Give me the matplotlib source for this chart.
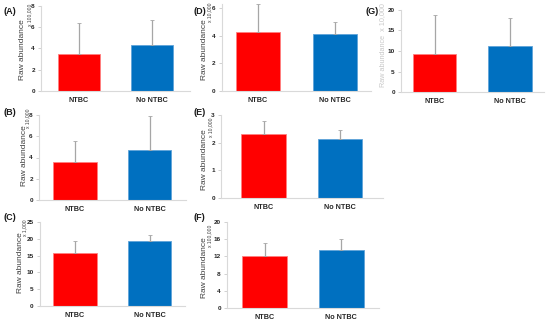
import matplotlib.pyplot as plt

plt.rcParams['font.family'] = ['Liberation Sans', 'DejaVu Sans']

groups = ['NTBC', 'No NTBC']
colors = ['#FF0000', '#0070C0']

# panel data: mean and upper error
a_vals = [3.5, 4.35]
a_err = [2.9, 2.3]
b_vals = [3.55, 4.7]
b_err = [2.0, 3.25]
c_vals = [15.8, 19.3]
c_err = [3.5, 1.8]
d_vals = [4.3, 4.15]
d_err = [2.0, 0.85]
e_vals = [2.33, 2.12]
e_err = [0.47, 0.33]
f_vals = [12.2, 13.6]
f_err = [2.9, 2.4]
g_vals = [9.3, 11.3]
g_err = [9.6, 6.8]

W, H = 550, 321
fig = plt.figure(figsize=(W / 100, H / 100), dpi=100)

# layout in pixels: label, axis-left x, bar centres, bar width, y top, y zero,
# ymax, ticks, multiplier, label pos, ylabel pos, multiplier pos, faded
panels = [
    ('(A)', 41, 79, 151.5, 42, 6, 91, 8, [0, 2, 4, 6, 8], 'x 100,000', (4, 12), (23, 50), (30, 15), a_vals, a_err, False),
    ('(B)', 39, 75, 149.5, 43.5, 115, 200, 8, [0, 2, 4, 6, 8], 'x 10,000', (4, 113), (24, 156), (28, 118), b_vals, b_err, False),
    ('(C)', 40, 75, 149.5, 43.5, 222, 306, 25, [0, 5, 10, 15, 20, 25], 'x 1,000', (4, 218), (21, 263), (25, 228), c_vals, c_err, False),
    ('(D)', 222, 258, 335, 44, 4, 91, 6.3, [0, 2, 4, 6], 'x 10,000', (193, 12), (205, 50), (210, 12), d_vals, d_err, False),
    ('(E)', 221, 263.5, 340, 44.5, 115, 198, 3, [0, 1, 2, 3], 'x 10,000', (193, 113), (205, 160), (211, 127), e_vals, e_err, False),
    ('(F)', 227, 264.5, 341, 45, 222, 308, 20, [0, 4, 8, 12, 16, 20], 'x 100,000', (193, 218), (204, 268), (210, 236), f_vals, f_err, False),
    ('(G)', 401, 434.5, 510, 43.5, 10, 92, 20, [0, 5, 10, 15, 20], 'x 10,000', (366, 12), (383, 45), (383, 20), g_vals, g_err, True),
]

for (lab, xl, c1, c2, bw, ytop, yzero, ymax, ticks, mult, lpos, ypos, mpos, vals, errs, faded) in panels:
    s = c2 - c1
    xr = c2 + (c1 - xl)
    ax = fig.add_axes([xl / W, 1 - yzero / H, (xr - xl) / W, (yzero - ytop) / H])
    ax.bar([0, 1], vals, width=bw / s, color=colors, edgecolor=['#FF8080', '#5FA3D9'], linewidth=0.6,
           yerr=[[0, 0], errs], ecolor='#A6A6A6', error_kw=dict(elinewidth=0.9, capsize=1.2, capthick=0.6))
    ax.set_xlim((xl - c1) / s, (xr - c1) / s)
    ax.set_ylim(0, ymax)
    ax.set_yticks(ticks)
    ax.set_yticklabels([str(t) for t in ticks])
    ax.set_xticks([0, 1])
    ax.set_xticklabels(groups, fontsize=5.2, fontweight='bold', color='#262626')
    ax.tick_params(axis='x', length=0, pad=4)
    ax.tick_params(axis='y', labelsize=4.6, length=2, width=0.5, color='#BFBFBF', pad=2.5, labelcolor='#262626')
    for t in ax.get_yticklabels():
        t.set_fontweight('bold')
    for side in ['top', 'right']:
        ax.spines[side].set_visible(False)
    for side in ['left', 'bottom']:
        ax.spines[side].set_color('#D9D9D9')
        ax.spines[side].set_linewidth(0.8)

    tc = '#C8C8C8' if faded else '#404040'
    fig.text(lpos[0] / W, 1 - lpos[1] / H, lab, fontsize=6.5, fontweight='bold', ha='left', va='center', color='#1a1a1a')
    if faded:
        fig.text(ypos[0] / W, 1 - ypos[1] / H, 'Raw abundance  x 10,000', fontsize=5.2, rotation=90,
                 ha='center', va='center', color=tc)
    else:
        fig.text(ypos[0] / W, 1 - ypos[1] / H, 'Raw abundance', fontsize=6, rotation=90, ha='center', va='center', color=tc)
        fig.text(mpos[0] / W, 1 - mpos[1] / H, mult, fontsize=3.6, rotation=90, ha='center', va='center', color=tc)

fig.savefig('out.png', dpi=100, facecolor='white')
